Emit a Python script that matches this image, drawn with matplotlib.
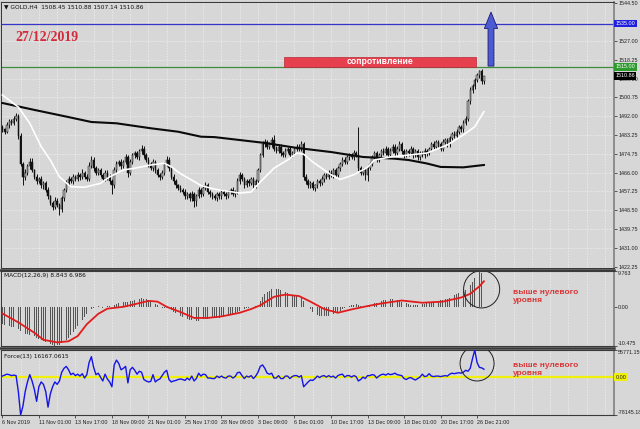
import numpy as np
import matplotlib
matplotlib.use("Agg")
import matplotlib.pyplot as plt
from matplotlib.patches import Rectangle, Ellipse, FancyArrow
from matplotlib.lines import Line2D
import matplotlib.transforms as mtransforms

plt.rcParams['font.family'] = ['Liberation Sans', 'DejaVu Sans']

# ---------------- data (GOLD, H4) ----------------
first_open = 1487.0
closes = [
    1486, 1485, 1488, 1490, 1489, 1491, 1492, 1483, 1470, 1464,
    1466, 1469, 1471, 1467, 1464, 1462, 1463, 1460, 1461, 1458,
    1455, 1452, 1450, 1453, 1451, 1449, 1454, 1458, 1461, 1463,
    1462, 1464, 1463, 1465, 1464, 1466, 1464, 1463, 1469, 1472,
    1468, 1466, 1467, 1465, 1463, 1466, 1464, 1462, 1460, 1467,
    1470, 1471, 1469, 1471, 1473, 1466, 1471, 1474, 1475, 1473,
    1476, 1477, 1474, 1472, 1470, 1468, 1471, 1467, 1465, 1464,
    1466, 1470, 1472, 1468, 1464, 1462, 1460, 1459, 1458, 1457,
    1455, 1456, 1454, 1456, 1453, 1455, 1458, 1456, 1459, 1460,
    1457, 1456, 1455, 1454, 1456, 1455, 1457, 1456, 1455, 1457,
    1458, 1456, 1457, 1462, 1465, 1463, 1460, 1462, 1461, 1463,
    1460, 1462, 1467, 1474, 1479, 1480, 1478, 1479, 1481, 1477,
    1476, 1478, 1475, 1474, 1476, 1477, 1474, 1475, 1477, 1478,
    1477, 1479, 1464, 1462, 1460, 1461, 1459, 1460, 1462, 1461,
    1463, 1465, 1464, 1466, 1465, 1467, 1465, 1468, 1470, 1472,
    1471, 1473, 1474, 1473, 1475, 1474, 1468, 1466, 1467, 1465,
    1468, 1470, 1473, 1475, 1472, 1474, 1476, 1475, 1477, 1474,
    1476, 1478, 1475, 1477, 1479, 1476, 1474, 1476, 1475, 1477,
    1474, 1476, 1473, 1475, 1474, 1476, 1475, 1477, 1479, 1478,
    1480, 1479, 1477, 1480, 1481, 1479, 1482, 1484, 1483, 1485,
    1487, 1486, 1489, 1491, 1499, 1504, 1506, 1509, 1511, 1513,
    1508.45, 1510.86,
]
hi_wick = [
    1.2, 0.8, 1.5, 1.0, 0.7, 1.3, 1.5, 1.0, 1.2, 1.0,
    1.5, 1.0, 1.8, 1.5, 0.8, 1.2, 1.0, 1.5, 0.9, 1.1,
    1.4, 0.8, 1.0, 1.6, 1.2, 0.9, 1.3, 1.0, 1.5, 1.2,
    1.0, 1.4, 0.8, 1.2, 1.0, 1.5, 0.9, 1.1, 1.8, 1.5,
    1.2, 0.9, 1.3, 1.0, 0.8, 1.4, 1.0, 1.2, 0.9, 1.5,
    1.3, 1.0, 1.2, 0.8, 1.5, 1.0, 1.3, 1.1, 0.9, 1.2,
    1.0, 1.8, 1.2, 0.9, 1.1, 1.0, 1.4, 0.8, 1.2, 1.0,
    1.3, 1.1, 1.6, 1.0, 0.9, 1.2, 1.0, 0.8, 1.1, 1.0,
    1.2, 1.0, 0.9, 1.3, 1.0, 1.1, 1.5, 0.9, 1.2, 1.4,
    1.0, 0.8, 1.1, 0.9, 1.2, 1.0, 1.3, 0.9, 1.0, 1.1,
    1.0, 1.2, 0.9, 1.5, 1.3, 1.0, 1.1, 1.2, 0.9, 1.0,
    1.1, 1.0, 1.3, 1.2, 1.5, 1.6, 1.0, 1.2, 1.5, 2.2,
    1.2, 1.0, 1.1, 0.9, 1.3, 1.0, 1.2, 1.1, 0.9, 1.4,
    1.2, 1.5, 1.0, 1.1, 0.9, 1.0, 1.2, 0.8, 1.1, 1.0,
    1.2, 0.9, 1.0, 1.3, 1.1, 1.0, 0.9, 1.2, 1.1, 1.3,
    1.0, 1.2, 1.1, 0.9, 1.3, 1.0, 13.0, 1.2, 1.0, 1.1,
    1.2, 1.0, 1.3, 1.1, 0.9, 1.2, 1.0, 1.4, 1.1, 1.0,
    1.3, 1.0, 1.1, 1.2, 1.5, 1.0, 0.9, 1.1, 1.0, 1.2,
    1.0, 1.1, 0.9, 1.2, 1.0, 1.3, 1.1, 1.0, 1.2, 1.4,
    1.2, 1.0, 1.1, 1.3, 1.0, 1.2, 1.1, 1.0, 1.3, 1.2,
    1.1, 1.0, 1.2, 1.3, 1.0, 1.5, 1.2, 1.0, 1.3, 0.5,
    1.0, 0.02,
]
lo_wick = [
    1.0, 1.3, 0.8, 1.2, 1.0, 0.9, 1.1, 1.5, 1.2, 4.0,
    1.5, 1.0, 1.2, 0.9, 1.1, 1.3, 1.0, 1.2, 1.4, 1.0,
    1.2, 1.0, 1.3, 1.1, 1.0, 2.5, 1.2, 1.0, 0.9, 1.1,
    1.0, 1.2, 0.9, 1.1, 1.3, 1.0, 1.2, 0.8, 1.0, 1.1,
    1.3, 1.0, 1.2, 0.9, 1.1, 1.0, 1.4, 1.2, 4.0, 1.0,
    1.1, 1.0, 1.2, 0.9, 1.0, 2.0, 1.1, 1.0, 1.2, 0.9,
    1.0, 1.2, 1.1, 1.0, 1.3, 0.9, 1.1, 1.2, 1.0, 1.4,
    1.0, 1.2, 0.9, 1.1, 1.0, 1.3, 1.1, 1.0, 1.2, 1.0,
    1.1, 1.2, 1.0, 1.3, 3.0, 2.5, 1.0, 1.1, 0.9, 1.2,
    1.0, 1.1, 1.2, 0.9, 1.0, 1.2, 1.1, 1.0, 1.3, 0.9,
    1.1, 1.0, 1.2, 1.0, 1.3, 1.1, 1.0, 0.9, 1.2, 1.0,
    1.2, 1.0, 1.1, 0.9, 1.0, 1.2, 1.1, 1.0, 1.3, 1.0,
    1.1, 1.0, 1.2, 0.9, 1.0, 1.1, 1.3, 1.0, 0.9, 1.1,
    1.0, 1.2, 1.5, 1.1, 1.3, 1.0, 1.2, 1.4, 1.0, 1.1,
    1.0, 1.2, 0.9, 1.1, 1.0, 1.3, 1.1, 1.0, 1.2, 0.9,
    1.1, 1.0, 1.2, 0.9, 1.1, 1.0, 1.5, 1.3, 1.0, 2.5,
    3.0, 1.0, 1.2, 1.1, 1.0, 0.9, 1.2, 1.0, 1.1, 1.3,
    1.0, 1.1, 1.2, 0.9, 1.0, 1.3, 1.1, 1.0, 1.2, 1.0,
    1.1, 1.0, 1.2, 1.0, 0.9, 1.1, 1.3, 1.0, 1.1, 1.0,
    1.2, 1.0, 1.1, 0.9, 1.0, 1.2, 1.1, 1.0, 1.2, 1.0,
    1.0, 1.2, 1.1, 1.0, 1.0, 1.2, 1.0, 1.1, 1.3, 1.0,
    1.3, 1.31,
]

# moving averages (bar index, price)
white_ma_x = [0, 7, 12, 17, 21, 25, 30, 36, 43, 47, 53, 58, 65, 71, 74, 78, 83, 87, 93, 104,
              109, 113, 119, 125, 129, 132, 136, 144, 148, 154, 160, 163, 170, 178, 186, 195,
              202, 207, 211]
white_ma_y = [1501.9, 1496.3, 1488.8, 1478.0, 1471.8, 1464.0, 1459.4, 1459.2, 1461.0, 1464.0,
              1467.2, 1468.0, 1469.5, 1470.3, 1468.7, 1465.5, 1462.5, 1460.0, 1458.3, 1456.5,
              1457.0, 1461.6, 1468.0, 1471.8, 1475.0, 1474.5, 1470.9, 1465.0, 1462.8, 1465.0,
              1468.4, 1471.8, 1473.2, 1474.1, 1475.0, 1478.8, 1483.4, 1487.2, 1494.2]
black_ma_x = [0, 14, 28, 39, 50, 65, 77, 87, 93, 115, 129, 144, 158, 172, 178, 186, 192, 202, 211]
black_ma_y = [1498.2, 1495.0, 1491.9, 1489.4, 1488.8, 1486.5, 1484.9, 1482.6, 1482.4, 1479.7,
              1477.4, 1475.5, 1473.2, 1472.4, 1471.8, 1470.2, 1468.6, 1468.4, 1469.5]

level_blue = 1535.00
level_green = 1515.00
zone_low, zone_high = 1515.0, 1519.3
zone_from, zone_to = 123.6, 207.6

price_ticks = [1544.50, 1535.75, 1527.00, 1518.25, 1509.50, 1500.75, 1492.00, 1483.25,
               1474.75, 1466.00, 1457.25, 1448.50, 1439.75, 1431.00, 1422.25]
hidden_price_ticks = [1535.75]   # covered by the 1535.00 level box in the original

# MACD(12,26,9)
macd_hist = [
    -4.5, -4.8, -5.0, -5.2, -5.4, -5.4, -5.5, -5.8, -6.4, -7.0,
    -7.2, -7.3, -7.5, -7.6, -7.9, -8.2, -8.5, -8.8, -9.0, -9.3,
    -9.6, -9.9, -10.2, -10.475, -10.3, -10.1, -9.8, -9.4, -8.9, -8.3,
    -7.6, -6.8, -6.0, -5.1, -4.2, -3.4, -2.6, -1.9, -1.2, -0.6,
    -0.3, 0.0, 0.2, 0.1, -0.1, 0.2, 0.4, 0.3, 0.2, 0.6,
    0.8, 1.0, 1.2, 1.3, 1.5, 1.4, 1.6, 1.8, 2.0, 2.1,
    2.3, 2.4, 2.3, 2.1, 1.8, 1.5, 1.3, 0.9, 0.5, 0.1,
    -0.2, -0.1, 0.0, -0.3, -0.8, -1.2, -1.6, -2.0, -2.4, -2.7,
    -3.0, -3.2, -3.4, -3.5, -3.6, -3.7, -3.6, -3.5, -3.3, -3.2,
    -3.1, -3.0, -2.9, -2.9, -2.8, -2.8, -2.7, -2.6, -2.5, -2.4,
    -2.2, -2.0, -1.8, -1.4, -1.0, -0.7, -0.5, -0.3, -0.2, 0.0,
    0.1, 0.3, 0.9, 1.8, 2.8, 3.5, 4.0, 4.4, 4.8, 4.9,
    4.9, 4.8, 4.6, 4.3, 4.0, 3.7, 3.4, 3.2, 3.0, 2.9,
    2.8, 2.8, 1.8, 0.9, 0.1, -0.6, -1.2, -1.7, -2.0, -2.3,
    -2.4, -2.5, -2.4, -2.3, -2.1, -1.9, -1.7, -1.3, -0.9, -0.5,
    -0.2, 0.1, 0.3, 0.5, 0.7, 0.8, 0.6, 0.4, 0.3, 0.1,
    0.2, 0.4, 0.7, 1.0, 1.2, 1.5, 1.7, 1.9, 2.0, 2.1,
    2.2, 2.3, 2.2, 2.0, 1.8, 1.5, 1.3, 1.0, 0.8, 0.7,
    0.6, 0.7, 0.6, 0.7, 0.8, 0.9, 1.0, 1.2, 1.4, 1.5,
    1.7, 1.8, 1.9, 2.0, 2.1, 2.3, 2.6, 2.9, 3.2, 3.5,
    3.8, 4.0, 4.3, 4.6, 5.3, 6.1, 6.9, 8.0, 9.0, 9.763,
    9.3, 8.843,
]
signal_x = [0, 7, 14, 18, 24, 29, 33, 37, 42, 46, 53, 58, 64, 68, 72, 78, 84, 90, 96, 104,
            109, 113, 119, 124, 130, 135, 141, 147, 153, 160, 166, 175, 184, 193, 201, 205,
            209, 211]
signal_y = [-1.7, -4.1, -6.9, -8.8, -9.5, -9.2, -7.8, -4.6, -1.8, -0.4, 0.1, 0.8, 1.7, 1.5,
            0.1, -1.3, -2.9, -2.9, -2.5, -1.5, -0.5, 0.5, 2.8, 3.4, 3.0, 1.5, -0.5, -1.5,
            -0.6, 0.3, 1.0, 1.8, 1.2, 1.5, 2.6, 3.6, 5.6, 6.986]
macd_min, macd_max = -10.475, 9.763

# Force(13), thousands
force_k = [
    2, 4, 6, 5, 3, 4, 3, -30, -78.14518, -60,
    -30, -10, 5, -8, -25, -50, -20, -10, -15, -30,
    -62, -35, -20, -10, -15, -8, 10, 18, 22, 15,
    5, 8, 3, 6, 2, 7, -2, 5, 30, 42,
    20, 5, 8, 0, -8, 6, -4, -10, -20, 25,
    35, 28, 15, 18, 22, -12, 15, 20, 14, 6,
    12, 10, -5, -8, -10, -9, 5, -10, -6, -4,
    3, 10, 14, -5, -10, -8, -7, -5, -4, -5,
    -7, -2, -6, 2, -8, -3, 8, 2, 6, 5,
    -2, -2, -3, -3, 2, -1, 2, -1, -2, 2,
    2, -2, 1, 9, 10, 3, -3, 2, 0, 3,
    -3, 2, 10, 22, 25, 18, 8, 6, 8, -2,
    -2, 3, -3, -3, 2, 2, -3, 1, 3, 3,
    0, 3, -20, -15, -10, -6, -7, -3, 2, -1,
    2, 3, 0, 3, 0, 2, -2, 3, 5, 6,
    0, 3, 3, 0, 3, 1, -8, -5, 0, -3,
    3, 3, 5, 4, -2, 2, 5, 6, 4, 7,
    5, 6, 8, 5, 4, 3, -3, -5, -2, -1,
    -4, -6, -3, 0, 6, 1, 2, 7, 2, 1,
    2, 2, 1, 2, 3, 2, 6, 8, 7, 8,
    9, 8, 10, 14, 12, 18, 38, 55.771156, 30, 20,
    19, 16.1670615,
]
force_min, force_max = -78145.18, 55771.156

time_ticks = [0, 16, 32, 48, 64, 80, 96, 112, 128, 144, 160, 176, 192, 208]
time_labels = ['6 Nov 2019', '11 Nov 01:00', '13 Nov 17:00', '18 Nov 09:00', '21 Nov 01:00',
               '25 Nov 17:00', '28 Nov 09:00', '3 Dec 09:00', '6 Dec 01:00', '10 Dec 17:00',
               '13 Dec 09:00', '18 Dec 01:00', '20 Dec 17:00', '26 Dec 21:00']

# ---------------- figure ----------------
BG = '#d7d7d7'
W, H = 640, 429
fig = plt.figure(figsize=(6.4, 4.29), dpi=100, facecolor=BG)


def rect(x0, y0, x1, y1):
    return [x0 / W, 1 - y1 / H, (x1 - x0) / W, (y1 - y0) / H]


ax = fig.add_axes(rect(1, 2, 614, 268))
axm = fig.add_axes(rect(1, 271, 614, 346))
axf = fig.add_axes(rect(1, 350, 614, 415))

XMIN, XMAX = -0.6, 268.0
FS = 3.9
for a in (ax, axm, axf):
    a.set_facecolor(BG)
    a.set_xlim(XMIN, XMAX)
    for s in a.spines.values():
        s.set_color('#3a3a3a')
        s.set_linewidth(0.8)
    a.spines['right'].set_color('#808080')
    a.spines['right'].set_linewidth(1.2)
    a.yaxis.tick_right()
    a.tick_params(axis='y', length=2, width=0.5, pad=1.0, labelsize=FS, colors='#202020')
    for g in range(0, int(XMAX), 8):
        a.axvline(g, color='#f2f2f2', lw=0.5, ls=(0, (2, 2)), zorder=1)

for a in (ax, axm):
    a.set_xticks([])

# ---- main price panel ----
n = len(closes)
idx = np.arange(n)
c = np.array(closes, dtype=float)
o = np.concatenate([[first_open], c[:-1]])
hi = np.maximum(o, c) + np.array(hi_wick)
lo = np.minimum(o, c) - np.array(lo_wick)

ax.set_ylim(1421.8, 1544.96)
ax.set_yticks(price_ticks)
ax.set_yticklabels(['' if p in hidden_price_ticks else f'{p:.2f}' for p in price_ticks])
for p in price_ticks:
    ax.axhline(p, color='#f2f2f2', lw=0.5, ls=(0, (2, 2)), zorder=1)

ax.vlines(idx, lo, hi, color='#111111', lw=0.7, zorder=3)
up = c >= o
ax.bar(idx[up], (c - o)[up], bottom=o[up], width=0.62, color='#b4b4b4',
       edgecolor='#111111', lw=0.35, zorder=4)
ax.bar(idx[~up], (o - c)[~up], bottom=c[~up], width=0.62, color='#111111',
       edgecolor='#111111', lw=0.35, zorder=4)

ax.plot(black_ma_x, black_ma_y, color='#0a0a0a', lw=1.5, zorder=5)
ax.plot(white_ma_x, white_ma_y, color='white', lw=1.2, zorder=5)

ax.axhline(level_blue, color='#3535c8', lw=0.9, zorder=2)
ax.axhline(level_green, color='#3e8e3e', lw=0.9, zorder=2)

ax.add_patch(Rectangle((zone_from, zone_low), zone_to - zone_from, zone_high - zone_low,
                       facecolor='#e6404e', edgecolor='#b52b38', lw=0.5, zorder=6))
ax.text((zone_from + zone_to) / 2, (zone_low + zone_high) / 2 + 0.2, 'сопротивление',
        color='white', fontsize=6.2, fontweight='bold',
        ha='center', va='center', zorder=7)

ax.add_patch(FancyArrow(214.1, level_green + 0.3, 0, 25.0, width=2.6, head_width=5.8,
                        head_length=7.6, length_includes_head=True, facecolor='#4b5bd3',
                        edgecolor='#1c1c70', lw=0.6, zorder=7))

ax.text(0.0228, 0.868, '27/12/2019', transform=ax.transAxes, color='#d42a3a',
        fontsize=10, fontweight='bold', family=['Liberation Serif', 'DejaVu Serif'],
        ha='left', va='center', zorder=7)
ax.text(0.005, 0.981, '\u25bc GOLD,H4  1508.45 1510.88 1507.14 1510.86', transform=ax.transAxes,
        fontsize=4.2, color='#111111', ha='left', va='center', zorder=7,
        family=['DejaVu Sans'])

tr = mtransforms.blended_transform_factory(ax.transAxes, ax.transData)
for val, fc in ((level_blue, '#1f1fe0'), (level_green, '#2c9a2c'), (closes[-1], '#000000')):
    ax.text(1.0 + 1.5 / 613, val, f'{val:.2f}', transform=tr, fontsize=FS, color='white',
            ha='left', va='center', clip_on=False, zorder=8,
            bbox=dict(boxstyle='square,pad=0.25', fc=fc, ec='none'))

# ---- MACD panel ----
axm.set_ylim(macd_min, macd_max)
axm.bar(idx, macd_hist, width=0.35, color='#555555', zorder=3)
axm.plot(signal_x, signal_y, color='#e21c1c', lw=1.3, zorder=4)
axm.set_yticks([macd_max, 0, macd_min])
axm.set_yticklabels([f'{macd_max:.3f}', '0.00', f'{macd_min:.3f}'])
tl = axm.get_yticklabels()
tl[0].set_va('top')
tl[2].set_va('bottom')
axm.text(0.005, 0.94, 'MACD(12,26,9) 8.843 6.986', transform=axm.transAxes, fontsize=4.2,
         color='#111111', ha='left', va='center', family=['DejaVu Sans'])
axm.add_patch(Ellipse((210, 4.84), 15.8, 10.1, fill=False, ec='#202020', lw=0.7, zorder=6))
axm.text(223.7, 2.9, 'выше нулевого\nуровня', color='#d93838', fontsize=6,
         fontweight='bold', ha='left',
         va='center', linespacing=1.05, zorder=6)

# ---- Force panel ----
axf.set_ylim(force_min, force_max)
axf.axhline(0, color='#f0f00a', lw=1.6, zorder=2)
axf.plot(idx, np.array(force_k) * 1000.0, color='#1414e6', lw=1.0, zorder=4)
axf.set_yticks([force_max, force_min])
axf.set_yticklabels([f'{force_max:.3f}', f'{force_min:.2f}'])
tl = axf.get_yticklabels()
tl[0].set_va('top')
tl[1].set_va('bottom')
trf = mtransforms.blended_transform_factory(axf.transAxes, axf.transData)
axf.text(1.0 + 1.5 / 613, 0, '0.00', transform=trf, fontsize=FS, color='#202020',
         ha='left', va='center', clip_on=False, zorder=8,
         bbox=dict(boxstyle='square,pad=0.2', fc='#f0f00a', ec='none'))
axf.text(0.005, 0.9, 'Force(13) 16167.0615', transform=axf.transAxes, fontsize=4.2,
         color='#111111', ha='left', va='center', family=['DejaVu Sans'])
axf.add_patch(Ellipse((208, 28000), 14.9, 72100, fill=False, ec='#202020', lw=0.7, zorder=6))
axf.text(223.7, 15650, 'выше нулевого\nуровня', color='#d93838', fontsize=6,
         fontweight='bold', ha='left',
         va='center', linespacing=1.05, zorder=6)

axf.set_xticks(time_ticks)
axf.set_xticklabels(time_labels, ha='left')
axf.tick_params(axis='x', length=2, width=0.5, pad=1.5, labelsize=FS, colors='#202020')

# panel separators
for ypx in (269.5, 348.0):
    fig.add_artist(Line2D([0, 614 / W], [1 - ypx / H] * 2, color='#3a3a3a', lw=1.8))

fig.savefig('out.png', dpi=100, facecolor=BG)
